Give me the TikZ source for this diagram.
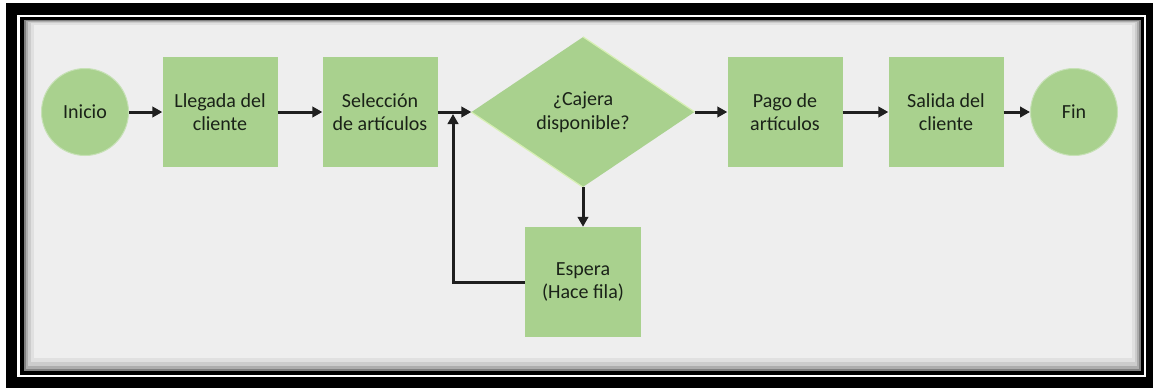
\documentclass[tikz,border=0pt]{standalone}
\usepackage{fontspec}
\setmainfont{Carlito}
\usetikzlibrary{shapes.geometric,arrows.meta}
\definecolor{boxgreen}{HTML}{A9D18E}
\definecolor{panelgray}{HTML}{EEEEEE}
\definecolor{txt}{HTML}{1A2218}
\definecolor{edgelight}{HTML}{D6EFB2}
\begin{document}
\begin{tikzpicture}[x=1pt,y=-1pt,
 every node/.style={font=\fontsize{20}{23.5}\selectfont, text=txt, align=center, inner sep=0pt},
 procbox/.style={rectangle, fill=boxgreen, minimum width=115pt, minimum height=110pt},
 term/.style={circle, fill=boxgreen, draw=boxgreen!65!white, line width=1pt, minimum size=87pt},
 decis/.style={diamond, fill=boxgreen, minimum width=223pt, minimum height=150pt, aspect=1.48},
 conn/.style={line width=3pt, draw=black!88, -{Triangle[length=10pt,width=10.5pt]}}
]
\useasboundingbox (0,0) rectangle (1153,388);
% frame
\fill[white] (0,0) rectangle (1153,388);
\fill[black] (6,3) rectangle (1153,388);
\fill[white] (17,15) rectangle (1146,377);
\fill[black] (20,17) rectangle (1144,375);
% panel with inner shadow
\fill[black!50] (24,20) rectangle (1141,371);
\fill[black!32] (26,21) rectangle (1139,369);
\fill[black!20] (28,22) rectangle (1137,366);
\fill[black!12] (31,23) rectangle (1135,362);
\fill[panelgray] (34,25) rectangle (1132,358);
% nodes
\node[term] (ini) at (85,112) {Inicio};
\node[procbox] (lle) at (220,112) {Llegada del\\cliente};
\node[procbox] (sel) at (380,112) {Selección\\de artículos};
\node[decis] (caj) at (583,112) {¿Cajera\\disponible?};
\node[procbox, minimum width=116pt] (esp) at (583,282) {Espera\\(Hace fila)};
\node[procbox] (pag) at (785,112) {Pago de\\artículos};
\node[procbox] (sal) at (946,112) {Salida del\\cliente};
\node[term] (fin) at (1074,112) {Fin};
\coordinate (j) at (453,114);
% diamond edge highlights
\draw[edgelight, line width=1.2pt] (caj.west) -- (caj.south);
\draw[edgelight, line width=1.2pt] (caj.north) -- (caj.east);
% connectors
\draw[conn] (ini) -- (lle);
\draw[conn] (lle) -- (sel);
\draw[conn] (sel) -- (caj);
\draw[conn] (caj) -- (esp);
\draw[conn] (caj) -- (pag);
\draw[conn] (pag) -- (sal);
\draw[conn] (sal) -- (fin);
\draw[conn] (esp.west) -| (j);
\end{tikzpicture}
\end{document}
